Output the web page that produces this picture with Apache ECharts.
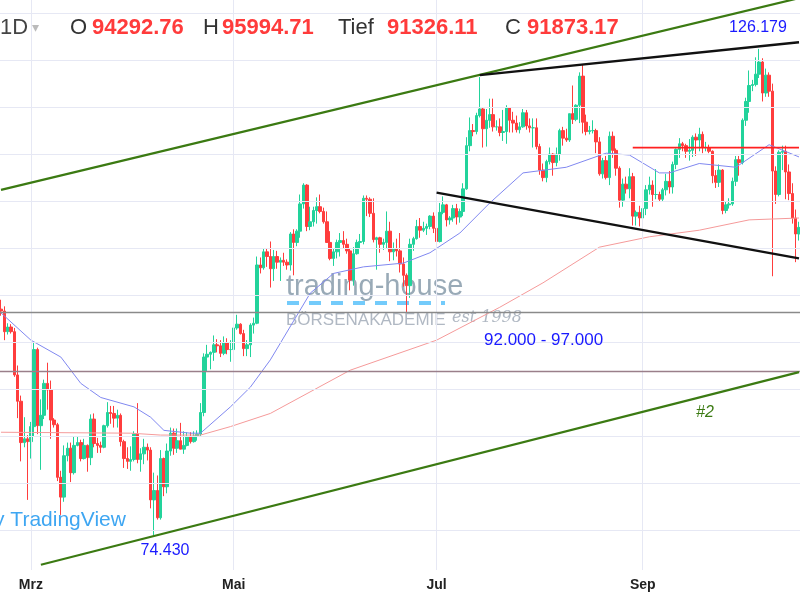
<!DOCTYPE html>
<html><head><meta charset="utf-8">
<script src="https://cdn.jsdelivr.net/npm/echarts@6/dist/echarts.min.js"></script>
<style>html,body{margin:0;padding:0;background:#fff}#c{width:800px;height:600px}</style>
</head><body><div id="c"></div>
<script>
const startDate = '2025-02-20';
const firstOpen = 98.5;
const closes = [98.3,96.1,96.6,96.1,91.5,88.7,84.3,84.7,84.4,
86.0,94.2,86.1,87.2,90.6,89.9,86.7,86.2,80.6,78.5,82.9,83.7,81.1,84.0,84.3,82.6,84.0,82.7,86.8,84.2,84.0,83.8,86.1,87.5,87.4,86.9,87.2,84.4,82.6,82.3,82.5,
85.2,82.5,83.1,83.8,83.5,78.2,79.2,76.3,82.6,79.6,83.4,85.3,83.7,84.5,83.6,84.0,84.9,84.4,85.0,85.2,87.5,93.4,93.7,93.9,94.7,94.6,93.8,94.9,94.2,94.2,
96.5,96.9,95.9,94.3,94.7,96.8,97.0,103.2,102.9,104.6,104.1,102.8,104.1,103.5,103.7,103.5,103.2,106.5,105.6,106.8,109.7,111.7,107.3,107.8,109.0,109.4,108.9,107.8,105.6,103.9,104.6,
105.6,105.8,105.4,104.7,101.6,104.4,105.6,105.7,110.3,110.2,108.7,105.9,106.1,105.4,105.6,106.8,104.6,104.9,104.7,103.3,102.1,101.0,105.4,106.0,107.3,106.9,107.1,107.3,108.4,107.1,
105.7,108.8,109.6,108.0,108.2,109.2,108.3,108.9,111.3,115.9,117.5,117.4,119.1,119.8,117.7,118.6,119.2,117.9,117.9,117.3,117.4,119.9,118.6,118.3,117.6,117.9,119.4,118.0,117.8,117.8,115.8,
113.3,112.5,114.2,115.0,114.1,115.0,117.5,116.7,116.5,119.3,118.7,120.2,123.3,118.4,117.4,117.5,117.5,116.3,112.9,114.3,112.5,116.9,115.4,113.5,110.1,111.8,111.3,112.6,108.4,108.8,108.2,
109.2,111.2,111.7,110.7,110.7,110.2,111.2,112.1,111.5,113.9,115.5,116.1,115.9,115.3,115.4,116.8,116.5,117.1,115.7,115.7,115.3,112.7,112.0,113.3,109.0,109.6,109.7,112.1,114.4,114.1,
118.6,120.6,122.3,122.4,123.5,124.8,121.5,123.4,121.7,113.2,110.7,115.2,115.3,113.1,110.8,108.2,106.5,107.2];
const highs = [99.5,98.8,97.0,96.9,96.5,92.5,89.3,87.0,85.1,
86.5,95.0,94.4,88.9,91.0,92.8,90.9,86.9,86.4,81.3,84.0,84.3,84.3,85.0,85.0,84.6,84.7,84.1,87.3,87.4,84.8,84.4,86.2,88.6,88.2,88.2,87.8,87.4,84.6,83.8,83.9,
85.5,88.5,83.7,84.7,84.2,83.8,81.1,80.8,83.5,82.7,84.2,85.9,85.8,85.8,86.4,85.5,85.4,85.4,85.5,85.6,88.5,93.8,94.7,94.0,95.7,95.3,95.2,95.6,95.4,95.2,
97.4,97.9,97.0,96.3,95.2,97.0,97.6,104.1,104.0,104.9,105.0,105.7,104.8,104.7,104.0,104.5,103.8,106.7,107.0,107.0,110.7,111.9,111.8,109.4,109.4,110.4,110.7,109.3,108.9,106.8,105.0,
105.9,106.6,106.8,106.0,105.0,105.1,105.9,106.5,110.6,110.6,110.4,110.3,106.2,106.2,106.0,108.9,107.8,105.6,106.0,106.6,104.0,102.3,106.0,106.2,108.0,108.2,107.8,107.6,108.5,108.8,
107.5,109.8,110.5,109.7,108.4,109.6,109.7,109.2,111.9,116.8,118.9,118.2,119.4,123.2,120.0,119.8,120.9,120.9,118.6,118.8,119.7,120.2,120.0,119.5,119.1,118.4,119.8,119.7,118.8,118.8,118.8,
116.1,114.0,114.4,115.7,115.1,115.7,117.7,117.9,117.7,119.3,122.3,120.3,123.7,124.5,119.2,118.0,118.6,117.7,116.8,114.6,114.8,117.4,117.4,115.6,113.7,112.4,112.6,113.5,113.0,109.0,109.5,
109.5,111.7,112.6,112.2,113.4,111.0,111.4,112.9,113.2,114.2,115.6,116.7,116.3,116.1,116.6,117.0,117.2,117.8,117.4,116.3,116.0,115.4,113.3,113.9,113.4,110.0,110.3,112.5,114.8,114.8,
118.8,121.0,123.9,122.9,125.3,126.2,125.2,124.1,123.7,122.5,113.7,115.4,115.9,115.9,113.9,111.9,109.1,107.8];
const lows = [97.8,95.2,95.8,95.9,91.3,86.9,82.3,83.8,78.2,
82.6,85.0,85.2,81.4,86.8,87.8,84.7,85.9,80.2,76.6,78.0,82.3,80.1,80.9,83.9,82.3,82.5,81.2,81.9,83.8,83.2,83.2,83.7,85.9,86.3,85.9,85.9,83.9,81.6,81.5,81.3,
82.3,82.1,81.2,82.0,82.4,77.3,74.4,76.1,76.1,78.6,78.9,82.9,83.0,83.2,83.6,83.1,83.9,84.2,84.3,84.5,85.0,87.1,91.9,92.1,93.0,93.9,93.4,93.6,93.7,92.9,
94.1,96.3,95.8,93.5,93.5,93.4,95.9,96.9,102.3,102.7,103.0,100.8,101.5,102.8,101.5,103.1,102.7,102.6,102.1,105.2,106.1,109.2,106.8,106.9,107.3,107.6,108.7,107.6,106.0,103.7,103.1,
103.9,104.1,104.9,104.4,100.5,101.0,104.3,105.0,105.4,108.4,108.3,105.6,102.7,104.5,104.8,104.9,103.6,103.7,104.1,102.4,100.9,98.2,99.7,104.7,105.9,106.1,106.7,106.4,107.0,106.6,
105.3,105.6,108.6,107.3,107.5,107.8,107.5,107.7,108.4,111.2,115.3,116.9,117.1,118.9,115.7,115.8,117.8,117.4,117.5,116.9,116.4,116.1,117.3,117.3,117.3,117.2,117.8,117.6,117.3,115.7,115.5,
112.8,112.1,112.0,113.9,112.7,113.7,114.3,115.9,116.3,116.3,118.2,118.5,118.3,117.2,117.0,117.1,117.2,115.1,112.7,112.4,112.3,111.7,114.6,112.7,109.3,109.4,110.8,110.3,107.4,107.4,107.3,
107.3,108.5,110.7,109.4,110.2,109.9,110.0,110.6,110.8,110.8,113.4,114.6,115.3,114.6,114.3,114.7,114.8,115.3,115.1,115.3,115.1,111.9,111.4,111.5,108.6,108.7,109.2,109.5,111.6,112.7,
113.9,118.0,119.4,121.7,122.2,123.1,120.6,121.1,121.1,102.0,109.7,110.5,113.3,110.2,110.1,107.6,103.5,105.8];
const ma50 = [['2025-02-20',98.1],['2025-03-01',95.2],['2025-03-10',93.4],['2025-03-16',90.6],['2025-03-22',89.1],['2025-04-01',88.1],['2025-04-06',87.0],['2025-04-10',85.6],['2025-04-18',85.3],['2025-04-21',85.3],['2025-04-30',88.1],['2025-05-06',90.2],['2025-05-12',93.1],['2025-05-24',100.2],['2025-05-31',102.3],['2025-06-09',103.0],['2025-06-21',103.4],['2025-06-29',104.5],['2025-07-08',106.6],['2025-07-17',109.8],['2025-07-27',113.0],['2025-08-09',113.6],['2025-08-21',115.1],['2025-08-28',114.9],['2025-09-06',113.0],['2025-09-09',113.0],['2025-09-18',114.0],['2025-09-29',113.6],['2025-10-09',116.0],['2025-10-18',114.7]];
const ma200 = [['2025-02-20',85.4],['2025-03-31',85.3],['2025-04-09',85.1],['2025-04-21',85.1],['2025-04-30',86.0],['2025-05-12',87.4],['2025-06-05',92.0],['2025-07-01',95.2],['2025-07-20',98.7],['2025-08-02',101.3],['2025-08-19',105.1],['2025-09-03',106.2],['2025-09-18',106.9],['2025-10-03',108.0],['2025-10-18',108.2]];
const greenUpper = [['2025-02-20',111.2],['2025-10-18',131.6]];
const greenLower = [['2025-03-04',71.3],['2025-10-18',91.8]];
const blackUpper = [['2025-07-14',123.4],['2025-10-18',126.9]];
const blackLower = [['2025-07-01',110.9],['2025-10-18',103.9]];
const redLevel = [['2025-08-29',115.7],['2025-10-18',115.7]];
const zoneLevels = [98.2, 91.9];
const monthTicks = ['2025-03-01','2025-05-01','2025-07-01','2025-09-01'];
const monthNames = {3:'Mrz',5:'Mai',7:'Jul',9:'Sep'};
const gridLevels = [75,80,85,90,95,100,105,110,115,120,125,130];
const header = [['1D','#444',0,'normal'],['▾','#bbb',32,'normal'],['O','#333',70,'normal'],['94292.76','#ff3b3b',92,'bold'],
  ['H','#333',203,'normal'],['95994.71','#ff3b3b',222,'bold'],['Tief','#333',338,'normal'],['91326.11','#ff3b3b',387,'bold'],
  ['C','#333',505,'normal'],['91873.17','#ff3b3b',527,'bold']];

const DAY = 86400000;
const tm = s => Date.parse(s + 'T00:00:00Z');
const t0 = tm(startDate);
const candles = closes.map((c,i)=>{
  const o = i===0 ? firstOpen : closes[i-1];
  return [t0 + i*DAY, o, c, lows[i], highs[i]];
});
const pts = a => a.map(p=>[tm(p[0]), p[1]]);

const chart = echarts.init(document.getElementById('c'));
const lineS = (data,color,width,z)=>({type:'line',data:pts(data),symbol:'none',silent:true,z:z||5,
  lineStyle:{color:color,width:width},animation:false});
chart.setOption({
  animation:false,
  grid:{left:0,right:0,top:0,bottom:30},
  xAxis:{type:'time',min:t0-DAY*0.3,max:tm('2025-10-18')+DAY*0.3,
    axisLine:{show:false},axisTick:{show:false},splitLine:{show:false},
    axisLabel:{show:false}},
  yAxis:{type:'value',min:70.74,max:131.4,show:false,splitLine:{show:false}},
  series:[
    {type:'candlestick',data:candles,barWidth:3,z:3,
      itemStyle:{color:'#22d39b',color0:'#ff3d3d',borderColor:'#22d39b',borderColor0:'#ff3d3d',borderWidth:1},
      markLine:{silent:true,symbol:'none',label:{show:false},animation:false,
        data:[
          ...gridLevels.map(v=>({yAxis:v,lineStyle:{color:'#e6e8f4',width:1,type:'solid'}})),
          ...monthTicks.map(d=>({xAxis:tm(d),lineStyle:{color:'#e6e8f4',width:1,type:'solid'}})),
          {yAxis:zoneLevels[0],lineStyle:{color:'#8a8a8a',width:1.3,type:'solid'}},
          {yAxis:zoneLevels[1],lineStyle:{color:'#9a7f8a',width:1.3,type:'solid'}}
        ]}},
    lineS(ma50,'#8088f0',1,4),
    lineS(ma200,'#f59a9a',1,4),
    lineS(greenUpper,'#3b7a12',2.2,6),
    lineS(greenLower,'#3b7a12',2.2,6),
    lineS(blackUpper,'#111',2.4,6),
    lineS(blackLower,'#111',2.4,6),
    lineS(redLevel,'#ff2020',1.8,6)
  ]
});
const monthLabels = monthTicks.map(d=>{
  const x = chart.convertToPixel({xAxisIndex:0}, tm(d));
  return {type:'text',x:x,y:585,z:100,style:{text:monthNames[new Date(tm(d)).getUTCMonth()+1],
    fontSize:14,fontWeight:'bold',fill:'#222',fontFamily:'Liberation Sans',align:'center',verticalAlign:'middle'}};
});
const headerTexts = header.map(h=>({type:'text',x:h[2],y:28,z:100,style:{text:h[0],fill:h[1],fontWeight:h[3],
  fontSize:h[0]==='▾'?14:22,fontFamily:'Liberation Sans',verticalAlign:'middle'}}));
chart.setOption({graphic:[
    {type:'rect',left:0,top:570,shape:{width:800,height:30},style:{fill:'#fff'},z:50},
    ...monthLabels, ...headerTexts,
    {type:'text',x:758,y:28,z:100,style:{text:'126.179',fontSize:16,fill:'#1a1aff',fontFamily:'Liberation Sans',align:'center',verticalAlign:'middle'}},
    {type:'text',x:165,y:551,z:100,style:{text:'74.430',fontSize:16,fill:'#1a1aff',fontFamily:'Liberation Sans',align:'center',verticalAlign:'middle'}},
    {type:'text',x:484,y:340,z:100,style:{text:'92.000 - 97.000',fontSize:17,fill:'#1a1aff',fontFamily:'Liberation Sans',verticalAlign:'middle'}},
    {type:'text',x:696,y:413,z:100,style:{text:'#2',fontSize:16,fill:'#3b7a12',fontStyle:'italic',fontFamily:'Liberation Sans',verticalAlign:'middle'}},
    {type:'text',x:-6,y:520,z:100,style:{text:'y TradingView',fontSize:21,fill:'#3ea6f2',fontFamily:'Liberation Sans',verticalAlign:'middle'}},
    {type:'text',x:286,y:287,z:2,style:{text:'trading-house',fontSize:29,fill:'rgba(135,155,170,0.85)',fontFamily:'Liberation Sans',verticalAlign:'middle'}},
    {type:'text',x:286,y:320,z:2,style:{text:'BÖRSENAKADEMIE',fontSize:17,fill:'rgba(150,160,175,0.75)',fontFamily:'Liberation Sans',verticalAlign:'middle'}},
    {type:'text',x:452,y:318,z:2,style:{text:'est 1998',fontSize:16,fill:'rgba(150,160,175,0.75)',fontStyle:'italic',fontFamily:'DejaVu Serif',verticalAlign:'middle'}},
    {type:'line',z:2,shape:{x1:287,y1:303,x2:445,y2:303},style:{stroke:'rgba(80,190,250,0.8)',lineWidth:4,lineDash:[12,10]}}
]});
</script></body></html>
